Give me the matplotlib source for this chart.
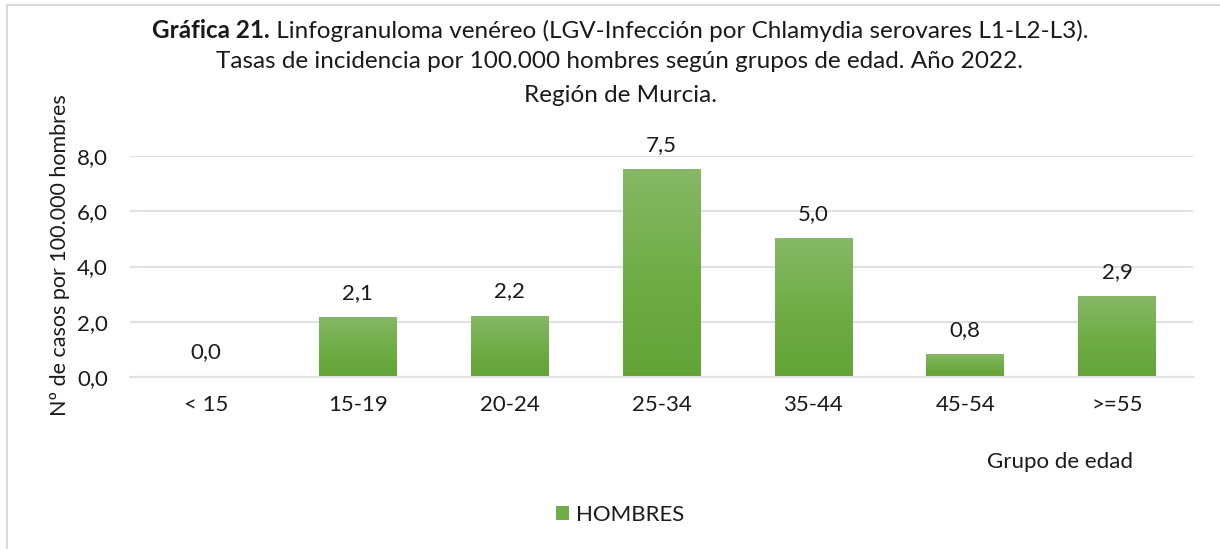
import matplotlib
matplotlib.use("Agg")
import matplotlib.pyplot as plt
import numpy as np
from matplotlib.colors import LinearSegmentedColormap
from matplotlib.lines import Line2D
from matplotlib.patches import Patch

plt.rcParams['font.family'] = ['Lato', 'DejaVu Sans']

# data
grupos = ['< 15', '15-19', '20-24', '25-34', '35-44', '45-54', '>=55']
tasas = [0.0, 2.15, 2.2, 7.5, 5.0, 0.8, 2.9]
etiquetas = ['0,0', '2,1', '2,2', '7,5', '5,0', '0,8', '2,9']
yticks = [0, 2, 4, 6, 8]

GRID = '#dfe1e5'
TXT = '#1a1a1a'
FS = 16
FS_TITLE = 17.5
green_cmap = LinearSegmentedColormap.from_list('g', ['#63a336', '#70ad47', '#86b866'])

W, H = 1220, 549
fig = plt.figure(figsize=(W / 100, H / 100), dpi=100)
ax = fig.add_axes([130 / W, 1 - 377 / H, (1193 - 130) / W, (377 - 156) / H])

x = np.arange(len(grupos))
bw = 0.51
bars = ax.bar(x, tasas, width=bw, color='none', zorder=2)
grad = np.linspace(0, 1, 256).reshape(-1, 1)
for xi, v in zip(x, tasas):
    if v <= 0:
        continue
    ax.imshow(grad, extent=(xi - bw / 2, xi + bw / 2, 0, v), origin='lower',
              cmap=green_cmap, aspect='auto', zorder=2, interpolation='bicubic')

for xi, v, lab in zip(x, tasas, etiquetas):
    ax.annotate(lab, (xi, v), xytext=(0, 18), textcoords='offset points',
                ha='center', va='center', fontsize=FS, color=TXT,
                annotation_clip=False)

ax.set_xlim(-0.5, len(grupos) - 0.5)
ax.set_ylim(0, 8)
ax.set_yticks(yticks)
ax.set_yticklabels([f'{t:.1f}'.replace('.', ',') for t in yticks])
ax.set_xticks(x)
ax.set_xticklabels(grupos)
ax.tick_params(length=0, labelsize=FS, colors=TXT)
ax.tick_params(axis='x', pad=13)
ax.tick_params(axis='y', pad=16)
ax.grid(axis='y', color=GRID, linewidth=1.5, zorder=0)
for s in ['top', 'right', 'left']:
    ax.spines[s].set_visible(False)
ax.spines['bottom'].set_color(GRID)
ax.spines['bottom'].set_linewidth(1.5)

fig.text(60 / W, 1 - 255 / H, 'Nº de casos por 100.000 hombres', rotation=90,
         ha='center', va='center', fontsize=15.5, color=TXT)
fig.text(1060 / W, 1 - 462 / H, 'Grupo de edad', ha='center', va='center',
         fontsize=FS, color=TXT)

# title, first line mixes bold and regular
cx = 620 / W
t_bold = fig.text(0, 1 - 31 / H, 'Gráfica 21.', fontsize=FS_TITLE, fontweight='bold',
                  ha='left', va='center', color=TXT)
t_rest = fig.text(0, 1 - 31 / H,
                  ' Linfogranuloma venéreo (LGV-Infección por Chlamydia serovares L1-L2-L3).',
                  fontsize=FS_TITLE, ha='left', va='center', color=TXT)
fig.canvas.draw()
r = fig.canvas.get_renderer()
wb = t_bold.get_window_extent(r).width
wr = t_rest.get_window_extent(r).width
x0 = 620 - (wb + wr) / 2
t_bold.set_x(x0 / W)
t_rest.set_x((x0 + wb) / W)
fig.text(cx, 1 - 62 / H,
         'Tasas de incidencia por 100.000 hombres según grupos de edad. Año 2022.',
         fontsize=FS_TITLE, ha='center', va='center', color=TXT)
fig.text(cx, 1 - 95 / H, 'Región de Murcia.', fontsize=FS_TITLE, ha='center',
         va='center', color=TXT)

fig.legend(handles=[Patch(facecolor='#70ad47', label='HOMBRES')],
           loc='center', bbox_to_anchor=(620 / W, 1 - 515 / H), frameon=False,
           fontsize=FS, handlelength=0.6, handleheight=0.6, handletextpad=0.3,
           labelcolor=TXT)

# outer chart border
fig.add_artist(Line2D([7 / W, 7 / W], [0, 1 - 5 / H], color='#d9d9d9', lw=1.5))
fig.add_artist(Line2D([7 / W, 1], [1 - 5 / H, 1 - 5 / H], color='#d9d9d9', lw=1.5))

fig.savefig('out.png', dpi=100, facecolor='white')
